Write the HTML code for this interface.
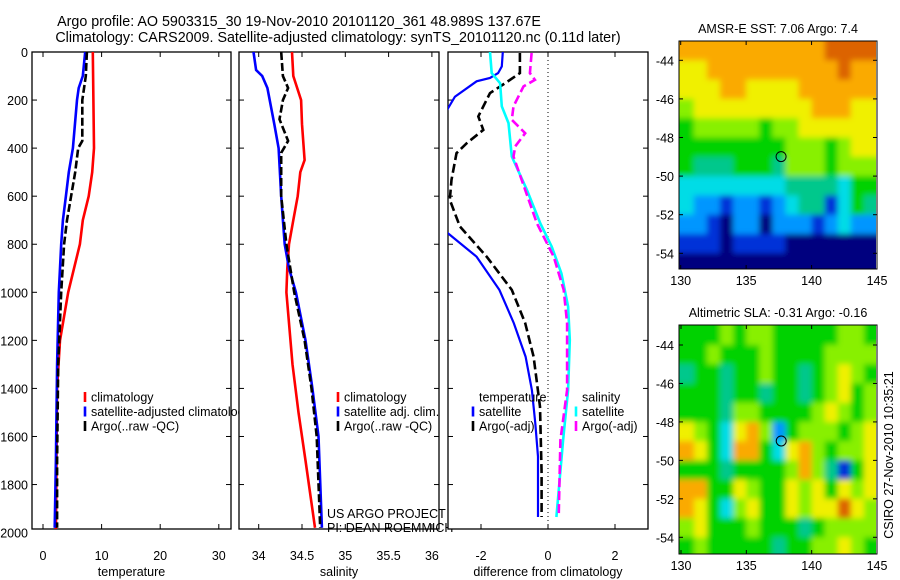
<!DOCTYPE html>
<html><head><meta charset="utf-8"><style>
body{margin:0;background:#fff;}
svg{display:block;font-family:"Liberation Sans",sans-serif;}
</style></head><body>
<svg id="fig" width="900" height="580" viewBox="0 0 900 580" xmlns="http://www.w3.org/2000/svg">
<defs>
<clipPath id="c1"><rect x="32" y="52" width="199" height="477"/></clipPath>
<clipPath id="c2"><rect x="239" y="52" width="200" height="477"/></clipPath>
<clipPath id="c3"><rect x="448" y="52" width="200" height="477"/></clipPath>
<clipPath id="m1"><rect x="679" y="41" width="197" height="228"/></clipPath>
<clipPath id="m2"><rect x="679" y="325" width="197" height="229"/></clipPath>
<filter id="blur" x="-0.1" y="-0.1" width="1.2" height="1.2"><feGaussianBlur stdDeviation="3"/></filter>
</defs>
<text x="299" y="26" font-size="14.3" text-anchor="middle">Argo profile: AO 5903315_30 19-Nov-2010 20101120_361 48.989S 137.67E</text>
<text x="338" y="42" font-size="14.3" text-anchor="middle">Climatology: CARS2009. Satellite-adjusted climatology: synTS_20101120.nc (0.11d later)</text>
<g id="g"></g>
</svg>
<script>
// ---- profile data (depth in dbar) ----
const tClimD=[0,400,500,600,700,800,1000,1200,1400,2000];
const tClimV=[8.5,8.7,8.4,7.8,6.8,6.3,4.3,2.9,2.4,2.2];
const tSatD=[0,100,150,200,400,500,600,700,800,1000,1300,1700,1980];
const tSatV=[7.2,6.8,6.1,5.8,5.1,4.4,3.9,3.4,3.1,2.7,2.4,2.2,2.0];
const tArgoD=[0,100,200,370,400,500,600,700,800,1000,1300,1700,1980];
const tArgoV=[7.5,7.3,6.7,6.7,6.0,5.5,4.8,4.1,3.6,3.1,2.6,2.4,2.4];
const sClimD=[0,100,200,300,450,500,600,700,800,900,1000,1300,1500,1700,1980];
const sClimV=[34.385,34.40,34.49,34.50,34.53,34.48,34.45,34.40,34.35,34.33,34.32,34.39,34.46,34.54,34.65];
const sSatD=[0,75,100,150,300,400,600,700,800,900,1000,1200,1400,1600,1980];
const sSatV=[33.94,33.97,34.04,34.10,34.18,34.23,34.26,34.28,34.30,34.35,34.43,34.54,34.62,34.69,34.73];
const sArgoD=[0,100,150,200,280,370,420,600,800,1000,1200,1400,1600,1980];
const sArgoV=[34.26,34.28,34.34,34.28,34.24,34.34,34.26,34.26,34.32,34.41,34.53,34.61,34.67,34.71];
const dTSatD=[0,60,88,108,122,186,262,741,852,990,1128,1268,1407,1545,1684,1935];
const dTSatV=[-1.35,-1.38,-1.49,-1.73,-2.13,-2.78,-3.1,-3.1,-2.13,-1.45,-1.02,-0.67,-0.48,-0.38,-0.30,-0.30];
const dTArgoD=[4,88,130,171,268,324,380,421,532,615,726,852,990,1128,1268,1476,1753,1935];
const dTArgoV=[-0.84,-0.84,-1.28,-1.73,-2.08,-1.93,-2.43,-2.73,-2.88,-2.93,-2.63,-1.83,-1.08,-0.68,-0.43,-0.24,-0.19,-0.19];
const dSSatD=[0,88,130,226,296,435,574,713,810,921,1059,1198,1407,1615,1935];
const dSSatV=[-1.73,-1.68,-1.43,-1.38,-1.18,-1.08,-0.63,-0.23,0.11,0.40,0.60,0.65,0.60,0.45,0.25];
const dSArgoD=[4,88,116,143,226,282,338,393,435,574,713,852,990,1128,1407,1615,1935];
const dSArgoV=[-0.49,-0.54,-0.39,-0.73,-1.03,-1.08,-0.68,-0.98,-1.03,-0.68,-0.33,0.17,0.47,0.57,0.57,0.37,0.32];
const depthTicks=[0,200,400,600,800,1000,1200,1400,1600,1800,2000];
const tTicks=[0,10,20,30];
const sTicks=[34,34.5,35,35.5,36];
const dTicks=[-2,0,2];
// ---- map data: rows lat -43..-55, cols lon 130..145 (colour levels) ----
const sstGrid=[
"888888888889999",
"778888888888988",
"777887777888888",
"677777777788877",
"566666566777777",
"555555556665677",
"544455546665666",
"333333334444355",
"322122123441354",
"221022022212322",
"111011110000000",
"000000000000000"];
const slaGrid=[
"555656655555665",
"556555655556666",
"455455655456765",
"555455455456756",
"555466555567656",
"765378625666567",
"875388537865667",
"555455556864157",
"885576557675767",
"875367557677976",
"675556555456666",
"565555545566765"];
const levelColors=["#00007f","#0030d8","#0096ff","#00dce6","#00c88c","#00d200","#88f000","#f0f000","#faaa00","#dc6400","#c81e00"];
const mapLon=[130,145], mapLatTicks=[-44,-46,-48,-50,-52,-54], mapLonTicks=[130,135,140,145];
const argoLon=137.67, argoLat=-48.99;

const NS="http://www.w3.org/2000/svg";
const G=document.getElementById('g');
function mk(tag,attrs,parent){const e=document.createElementNS(NS,tag);for(const k in attrs)e.setAttribute(k,attrs[k]);(parent||G).appendChild(e);return e;}
const Y0=52,Y1=529,DMAX=1985;
const yD=d=>Y0+(d/DMAX)*(Y1-Y0);
function lin(d0,d1,r0,r1){return v=>r0+(v-d0)/(d1-d0)*(r1-r0);}
const xT=lin(0,10,43,101.6);
const xS=lin(34,34.5,258.7,302);
const xDf=lin(0,2,548,615);
const FS=12.5;

function panel(x0,x1,name,xf,ticks,tickFmt,label){
  const b=mk('rect',{x:x0,y:Y0,width:x1-x0,height:Y1-Y0,fill:'#fff',stroke:'#000','stroke-width':1.3});
  
  depthTicks.forEach(d=>{const y=yD(d);if(y>Y1+3)return;
    mk('line',{x1:x0,x2:x0+5,y1:y,y2:y,stroke:'#000'});mk('line',{x1:x1,x2:x1-5,y1:y,y2:y,stroke:'#000'});});
  ticks.forEach(t=>{const x=xf(t);
    mk('line',{x1:x,x2:x,y1:Y0,y2:Y0+5,stroke:'#000'});mk('line',{x1:x,x2:x,y1:Y1,y2:Y1-5,stroke:'#000'});
    const tl=mk('text',{x:x,y:560,'font-size':FS,'text-anchor':'middle'});tl.textContent=tickFmt(t);
    });
  const lb=mk('text',{x:(x0+x1)/2,y:576,'font-size':FS,'text-anchor':'middle'});lb.textContent=label;
  
}
function line(D,V,xf,color,dash,clip,name,w){
  const p=D.map((d,i)=>(i?'L':'M')+xf(V[i]).toFixed(1)+' '+yD(d).toFixed(1)).join(' ');
  const e=mk('path',{d:p,fill:'none',stroke:color,'stroke-width':w||2.6,'clip-path':'url(#'+clip+')'});
  if(dash)e.setAttribute('stroke-dasharray',dash);
  
}
panel(32,231,'temperature-panel',xT,tTicks,t=>String(t),'temperature');
depthTicks.forEach(d=>{const t=mk('text',{x:28,y:yD(d)+5,'font-size':FS,'text-anchor':'end'});t.textContent=String(d);
  });
line(tClimD,tClimV,xT,'#ff0000',null,'c1','temp-climatology-line');
line(tSatD,tSatV,xT,'#0000ff',null,'c1','temp-satellite-line');
line(tArgoD,tArgoV,xT,'#000',"8 3",'c1','temp-argo-line');
function legend(x,y,items,name){items.forEach((it,i)=>{const yy=y+i*14.5;
  if(it[0]){const m=mk('line',{x1:x,x2:x,y1:yy-5,y2:yy+5,stroke:it[0],'stroke-width':2.6});}
  const t=mk('text',{x:x+6,y:yy+4.5,'font-size':FS});t.textContent=it[1];});}
legend(85,397,[['#ff0000','climatology'],['#0000ff','satellite-adjusted climatology'],['#000','Argo(..raw -QC)']],'temp-legend');
panel(239,439,'salinity-panel',xS,sTicks,t=>String(t),'salinity');
line(sClimD,sClimV,xS,'#ff0000',null,'c2','sal-climatology-line');
line(sSatD,sSatV,xS,'#0000ff',null,'c2','sal-satellite-line');
line(sArgoD,sArgoV,xS,'#000',"8 3",'c2','sal-argo-line');
legend(338,397,[['#ff0000','climatology'],['#0000ff','satellite adj. clim.'],['#000','Argo(..raw -QC)']],'sal-legend');
[['US ARGO PROJECT',518],['PI: DEAN ROEMMICH',532]].forEach(a=>{const t=mk('text',{x:327,y:a[1],'font-size':FS});t.textContent=a[0];});
panel(448,648,'difference-panel',xDf,dTicks,t=>String(t),'difference from climatology');
const zl=mk('line',{x1:xDf(0),x2:xDf(0),y1:Y0,y2:Y1,stroke:'#000','stroke-dasharray':'1 3'});
line(dTSatD,dTSatV,xDf,'#0000ff',null,'c3','diff-temp-satellite-line',2.2);
line(dTArgoD,dTArgoV,xDf,'#000',"9 4",'c3','diff-temp-argo-line');
line(dSSatD,dSSatV,xDf,'#00ffff',null,'c3','diff-sal-satellite-line');
line(dSArgoD,dSArgoV,xDf,'#ff00ff',"9 4",'c3','diff-sal-argo-line');
legend(473,397,[[null,'temperature'],['#0000ff','satellite'],['#000','Argo(-adj)']],'diff-temp-legend');
legend(576,397,[[null,'salinity'],['#00ffff','satellite'],['#ff00ff','Argo(-adj)']],'diff-sal-legend');

function map(grid,bx0,bx1,by0,by1,lat44y,lat54y,lonX130,lonX145,title,name,clipId){
  const xL=lin(130,145,lonX130,lonX145), yL=lin(-44,-54,lat44y,lat54y);
  const outer=mk('g',{'clip-path':'url(#'+clipId+')'});
  const cg=mk('g',{filter:'url(#blur)'},outer);
  const nr=grid.length;
  grid.forEach((row,r)=>{const nc=row.length;for(let c=0;c<nc;c++){
    let x=xL(mapLon[0]+c), y=yL(-43-r);
    let w=xL(mapLon[0]+c+1)-x, h=yL(-44-r)-y;
    if(c===0){x-=12;w+=12;} if(c===nc-1){w+=12;}
    if(r===0){y-=12;h+=12;} if(r===nr-1){h+=12;}
    const cell=mk('rect',{x:x.toFixed(1),y:y.toFixed(1),width:(w+0.5).toFixed(1),height:(h+0.5).toFixed(1),fill:levelColors[+row[c]]},cg);
    }});
  const b=mk('rect',{x:bx0,y:by0,width:bx1-bx0,height:by1-by0,fill:'none',stroke:'#000'});
  
  mapLatTicks.forEach(l=>{const y=yL(l);mk('line',{x1:bx0,x2:bx0+4,y1:y,y2:y,stroke:'#000'});mk('line',{x1:bx1,x2:bx1-4,y1:y,y2:y,stroke:'#000'});
    const t=mk('text',{x:bx0-5,y:y+5,'font-size':FS,'text-anchor':'end'});t.textContent=String(l);});
  mapLonTicks.forEach(l=>{const x=xL(l);mk('line',{x1:x,x2:x,y1:by0,y2:by0+4,stroke:'#000'});mk('line',{x1:x,x2:x,y1:by1,y2:by1-4,stroke:'#000'});
    const t=mk('text',{x:x,y:by1+16,'font-size':FS,'text-anchor':'middle'});t.textContent=String(l);});
  const c=mk('circle',{cx:xL(argoLon),cy:yL(argoLat),r:5,fill:'none',stroke:'#000'});
  const t=mk('text',{x:(bx0+bx1)/2,y:by0-8,'font-size':FS,'text-anchor':'middle'});t.textContent=title;
}
map(sstGrid,679,877,41,269,60.3,253.3,680.7,877,'AMSR-E SST: 7.06  Argo: 7.4','sst-map','m1');
map(slaGrid,679,877,325,554,345,537.3,681,877,'Altimetric SLA: -0.31  Argo: -0.16','sla-map','m2');
const cs=mk('text',{x:0,y:0,'font-size':FS,'text-anchor':'middle',transform:'translate(893,455) rotate(-90)'});cs.textContent='CSIRO 27-Nov-2010 10:35:21';

</script>
</body></html>
